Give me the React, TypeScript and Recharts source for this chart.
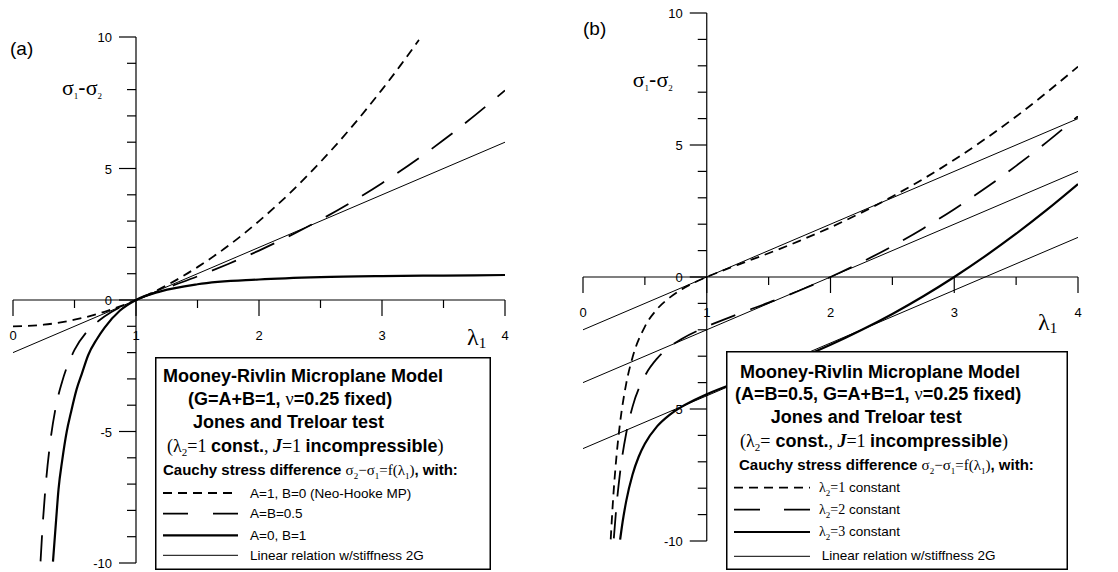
import React from "react";
import { LineChart, Line, XAxis, YAxis, ReferenceLine, Legend } from "recharts";

const SANS = "'Liberation Sans', Arial, Helvetica, sans-serif";
const SERIF = "'Liberation Serif', 'Times New Roman', serif";

const SHORT_DASH = "9 6";
const LONG_DASH = "26 16";

// axis ticks
const xTicks = [0, 0.5, 1, 1.5, 2, 2.5, 3, 3.5, 4];
const yTicks = [-10, -9, -8, -7, -6, -5, -4, -3, -2, -1, 0, 1, 2, 3, 4, 5, 6, 7, 8, 9, 10];

// (a) A=1, B=0 (Neo-Hooke MP)
const neoX = [0, 0.25, 0.5, 0.75, 1, 1.25, 1.5, 1.75, 2, 2.25, 2.5, 2.75, 3, 3.15, 3.3];
const neoY = [-1, -0.94, -0.75, -0.44, 0, 0.56, 1.25, 2.06, 3, 4.06, 5.25, 6.56, 8, 8.92, 9.89];
// (a) A=B=0.5
const halfX = [0.224, 0.24, 0.27, 0.3, 0.35, 0.4, 0.5, 0.6, 0.7, 0.8, 0.9, 1, 1.25, 1.5, 1.75, 2, 2.5, 3, 3.5, 4];
const halfY = [-9.94, -8.65, -6.82, -5.51, -4.02, -3.1, -1.9, -1.21, -0.78, -0.46, -0.21, 0, 0.46, 0.9, 1.37, 1.88, 3.05, 4.44, 6.08, 7.97];
// (a) A=0, B=1
const bOneX = [0.325, 0.35, 0.37, 0.4, 0.437, 0.47, 0.517, 0.56, 0.611, 0.68, 0.745, 0.87, 1, 1.2, 1.5, 2, 2.5, 3, 3.5, 4];
const bOneY = [-9.95, -8.4, -7.2, -6.1, -5.0, -4.3, -3.4, -2.8, -2.1, -1.5, -1.05, -0.4, 0, 0.33, 0.6, 0.78, 0.87, 0.91, 0.93, 0.95];
// (a) linear relation, stiffness 2G
const linAX = [0, 4];
const linAY = [-2, 6];

// (b) lambda2 = 1
const lam1X = [0.224, 0.24, 0.27, 0.3, 0.35, 0.4, 0.5, 0.6, 0.7, 0.8, 0.9, 1, 1.25, 1.5, 1.75, 2, 2.5, 3, 3.5, 4];
const lam1Y = [-9.94, -8.65, -6.82, -5.51, -4.02, -3.05, -1.88, -1.21, -0.78, -0.46, -0.21, 0, 0.46, 0.9, 1.37, 1.88, 3.05, 4.44, 6.08, 7.97];
// (b) lambda2 = 2
const lam2X = [0.249, 0.27, 0.3, 0.35, 0.4, 0.5, 0.6, 0.7, 0.8, 1, 1.25, 1.5, 1.75, 2, 2.25, 2.5, 2.75, 3, 3.25, 3.5, 3.75, 4];
const lam2Y = [-9.9, -8.7, -7.39, -5.9, -4.92, -3.75, -3.08, -2.65, -2.34, -1.88, -1.41, -0.97, -0.51, 0, 0.56, 1.17, 1.84, 2.57, 3.36, 4.21, 5.12, 6.09];
// (b) lambda2 = 3
const lam3X = [0.3, 0.32, 0.35, 0.4, 0.45, 0.5, 0.6, 0.7, 0.8, 0.9, 1, 1.25, 1.5, 1.75, 2, 2.25, 2.5, 2.75, 3, 3.25, 3.5, 3.75, 4];
const lam3Y = [-9.95, -9.28, -8.47, -7.49, -6.81, -6.32, -5.65, -5.22, -4.91, -4.66, -4.44, -3.98, -3.54, -3.08, -2.57, -2.01, -1.4, -0.73, 0, 0.79, 1.64, 2.55, 3.52];
// (b) linear relations
const linB1X = [0, 4];
const linB1Y = [-2, 6];
const linB2X = [0, 4];
const linB2Y = [-4, 4];
const linB3X = [0, 4];
const linB3Y = [-6.5, 1.5];

const pts = (xs: number[], ys: number[]) => xs.map((x, i) => ({ x, y: ys[i] }));

interface Series {
  name: string;
  data: { x: number; y: number }[];
  dash?: string;
  width: number;
  curve: "monotone" | "linear";
}

const seriesA: Series[] = [
  { name: "neo", data: pts(neoX, neoY), dash: SHORT_DASH, width: 1.8, curve: "monotone" },
  { name: "half", data: pts(halfX, halfY), dash: LONG_DASH, width: 1.8, curve: "monotone" },
  { name: "bOne", data: pts(bOneX, bOneY), width: 2.2, curve: "monotone" },
  { name: "linA", data: pts(linAX, linAY), width: 1, curve: "linear" },
];

const seriesB: Series[] = [
  { name: "lam1", data: pts(lam1X, lam1Y), dash: SHORT_DASH, width: 1.8, curve: "monotone" },
  { name: "lam2", data: pts(lam2X, lam2Y), dash: LONG_DASH, width: 1.8, curve: "monotone" },
  { name: "lam3", data: pts(lam3X, lam3Y), width: 2.2, curve: "monotone" },
  { name: "linB1", data: pts(linB1X, linB1Y), width: 1, curve: "linear" },
  { name: "linB2", data: pts(linB2X, linB2Y), width: 1, curve: "linear" },
  { name: "linB3", data: pts(linB3X, linB3Y), width: 1, curve: "linear" },
];

const makeXTick = (axisY: number) => (props: any) => {
  const { x, payload } = props;
  const v = payload.value;
  const major = Number.isInteger(v);
  return (
    <g>
      <line x1={x} x2={x} y1={axisY} y2={axisY + (major ? 16 : 8)} stroke="#000" strokeWidth={1.2} />
      {major && (
        <text x={x} y={axisY + 40} textAnchor="middle" fontFamily={SANS} fontSize={13} fill="#000">
          {v}
        </text>
      )}
    </g>
  );
};

const makeYTick = (axisX: number) => (props: any) => {
  const { y, payload } = props;
  const v = payload.value;
  const major = v % 5 === 0;
  return (
    <g>
      <line x1={axisX - (major ? 17 : 9)} x2={axisX} y1={y} y2={y} stroke="#000" strokeWidth={1.2} />
      {major && (
        <text x={axisX - 24} y={y + 5} textAnchor="end" fontFamily={SANS} fontSize={13} fill="#000">
          {v}
        </text>
      )}
    </g>
  );
};

// axis titles: Recharts passes its own x/y, so positions use tx/ty
const SigmaTitle = ({ tx, ty, panel, px, py }: any) => (
  <g>
    <text x={px} y={py} fontFamily={SANS} fontSize={19} fill="#000">{panel}</text>
    <text x={tx} y={ty} fontSize={22} fill="#000" fontFamily={SERIF}>
      σ<tspan fontSize={9} dy={4}>1</tspan>
      <tspan fontFamily={SANS} dy={-4}>-</tspan>σ<tspan fontSize={9} dy={4}>2</tspan>
    </text>
  </g>
);

const LambdaTitle = ({ tx, ty }: any) => (
  <text x={tx} y={ty} fontFamily={SERIF} fontSize={24} fill="#000">
    λ<tspan fontSize={15} dy={3}>1</tspan>
  </text>
);

const Sample = ({ y, x1, x2, s, dash }: any) => (
  <line x1={x1} x2={x2} y1={y} y2={y} stroke="#000" strokeWidth={s.width} strokeDasharray={dash ?? s.dash} />
);

// "Cauchy stress difference σ2−σ1=f(λ1), with:"
const CauchyLine = ({ x, y }: any) => (
  <text x={x} y={y} fontSize={15} fontFamily={SANS} fontWeight="bold">
    Cauchy stress difference{" "}
    <tspan fontFamily={SERIF} fontWeight="normal">σ</tspan>
    <tspan fontFamily={SERIF} fontWeight="normal" fontSize={9} dy={4}>2</tspan>
    <tspan fontFamily={SERIF} fontWeight="normal" dy={-4}>−σ</tspan>
    <tspan fontFamily={SERIF} fontWeight="normal" fontSize={9} dy={4}>1</tspan>
    <tspan fontFamily={SERIF} fontWeight="normal" dy={-4}>=f(λ</tspan>
    <tspan fontFamily={SERIF} fontWeight="normal" fontSize={9} dy={4}>1</tspan>
    <tspan fontFamily={SERIF} fontWeight="normal" dy={-4}>)</tspan>
    <tspan>, with:</tspan>
  </text>
);

const LegendA = () => (
  <svg width={336} height={213} style={{ display: "block" }}>
    <rect x={0.75} y={0.75} width={334.5} height={211.5} fill="#fff" stroke="#000" strokeWidth={1.5} />
    <g fill="#000">
      <text x={8} y={25} fontFamily={SANS} fontWeight="bold" fontSize={18}>Mooney-Rivlin Microplane Model</text>
      <text x={33} y={48.3} fontFamily={SANS} fontWeight="bold" fontSize={18}>
        (G=A+B=1, <tspan fontFamily={SERIF} fontWeight="normal">ν</tspan>=0.25 fixed)
      </text>
      <text x={38} y={71.3} fontFamily={SANS} fontWeight="bold" fontSize={18}>Jones and Treloar test</text>
      <text x={12} y={95} fontSize={18} fontFamily={SERIF}>
        (λ<tspan fontSize={11} dy={4}>2</tspan>
        <tspan dy={-4}>=1 </tspan>
        <tspan fontFamily={SANS} fontWeight="bold">const.</tspan>,{" "}
        <tspan fontStyle="italic" fontWeight="bold">J</tspan>=1{" "}
        <tspan fontFamily={SANS} fontWeight="bold">incompressible</tspan>)
      </text>
      <CauchyLine x={8} y={118.3} />
      <Sample y={136} x1={8} x2={83} s={seriesA[0]} />
      <Sample y={156.6} x1={8} x2={83} s={seriesA[1]} dash="25 25" />
      <Sample y={178.3} x1={8} x2={83} s={seriesA[2]} />
      <Sample y={198.3} x1={8} x2={83} s={seriesA[3]} />
      <text x={95} y={140.8} fontFamily={SANS} fontSize={13.5}>A=1, B=0 (Neo-Hooke MP)</text>
      <text x={95} y={161.3} fontFamily={SANS} fontSize={13.5}>A=B=0.5</text>
      <text x={95} y={182.6} fontFamily={SANS} fontSize={13.5}>A=0, B=1</text>
      <text x={95} y={202.6} fontFamily={SANS} fontSize={13.5}>Linear relation w/stiffness 2G</text>
    </g>
  </svg>
);

const LamItem = ({ x, y, n }: any) => (
  <text x={x} y={y} fontSize={14} fontFamily={SERIF}>
    λ<tspan fontSize={9} dy={4}>2</tspan>
    <tspan dy={-4}>={n}</tspan>
    <tspan fontFamily={SANS} fontSize={13.5}> constant</tspan>
  </text>
);

const LegendB = () => (
  <svg width={342} height={219} style={{ display: "block" }}>
    <rect x={0.75} y={0.75} width={340.5} height={217.5} fill="#fff" stroke="#000" strokeWidth={1.5} />
    <g fill="#000">
      <text x={14} y={26.6} fontFamily={SANS} fontWeight="bold" fontSize={18}>Mooney-Rivlin Microplane Model</text>
      <text x={9} y={49.3} fontFamily={SANS} fontWeight="bold" fontSize={18}>
        (A=B=0.5, G=A+B=1, <tspan fontFamily={SERIF} fontWeight="normal">ν</tspan>=0.25 fixed)
      </text>
      <text x={44.7} y={72} fontFamily={SANS} fontWeight="bold" fontSize={18}>Jones and Treloar test</text>
      <text x={14} y={96} fontSize={18} fontFamily={SERIF}>
        (λ<tspan fontSize={11} dy={4}>2</tspan>
        <tspan dy={-4}>=</tspan>
        <tspan fontFamily={SANS} fontWeight="bold"> const.</tspan>,{" "}
        <tspan fontStyle="italic" fontWeight="bold">J</tspan>=1{" "}
        <tspan fontFamily={SANS} fontWeight="bold">incompressible</tspan>)
      </text>
      <CauchyLine x={13} y={119.3} />
      <Sample y={136.6} x1={8} x2={84} s={seriesB[0]} />
      <Sample y={158.6} x1={8} x2={84} s={seriesB[1]} dash="26 24" />
      <Sample y={181} x1={8} x2={84} s={seriesB[2]} />
      <Sample y={205.3} x1={8} x2={84} s={seriesB[3]} />
      <LamItem x={93} y={141} n={1} />
      <LamItem x={93} y={162.6} n={2} />
      <LamItem x={93} y={185.3} n={3} />
      <text x={95.7} y={209} fontFamily={SANS} fontSize={13.5}>Linear relation w/stiffness 2G</text>
    </g>
  </svg>
);

interface PanelProps {
  left: number;
  width: number;
  margin: { top: number; right: number; bottom: number; left: number };
  axisX: number;
  axisY: number;
  series: Series[];
  legend: React.ReactNode;
  legendPos: { left: number; top: number; width: number; height: number };
  sigma: { tx: number; ty: number; px: number; py: number; panel: string };
  lambda: { tx: number; ty: number };
}

function Panel(p: PanelProps) {
  return (
    <div style={{ position: "absolute", left: p.left, top: 0 }}>
      <LineChart width={p.width} height={572} margin={p.margin}>
        <XAxis
          dataKey="x"
          type="number"
          domain={[0, 4]}
          ticks={xTicks}
          interval={0}
          allowDataOverflow
          height={1}
          axisLine={false}
          tickLine={false}
          tick={makeXTick(p.axisY)}
          label={<LambdaTitle {...p.lambda} />}
        />
        <YAxis
          type="number"
          domain={[-10, 10]}
          ticks={yTicks}
          interval={0}
          allowDataOverflow
          width={1}
          axisLine={false}
          tickLine={false}
          tick={makeYTick(p.axisX)}
          label={<SigmaTitle {...p.sigma} />}
        />
        <ReferenceLine y={0} stroke="#000" strokeWidth={1.2} />
        <ReferenceLine x={1} stroke="#000" strokeWidth={1.2} />
        {p.series.map((s) => (
          <Line
            key={s.name}
            data={s.data}
            dataKey="y"
            type={s.curve}
            stroke="#000"
            strokeWidth={s.width}
            strokeDasharray={s.dash}
            dot={false}
            activeDot={false}
            isAnimationActive={false}
          />
        ))}
        <Legend
          layout="horizontal"
          verticalAlign="middle"
          align="center"
          content={() => p.legend}
          wrapperStyle={{ ...p.legendPos }}
        />
      </LineChart>
    </div>
  );
}

export default function App() {
  return (
    <div style={{ position: "absolute", left: 0, top: 0, width: 1118, height: 572, background: "#fff" }}>
      <Panel
        left={0}
        width={560}
        margin={{ top: 37, right: 55, bottom: 8, left: 12 }}
        axisX={136}
        axisY={300}
        series={seriesA}
        legend={<LegendA />}
        legendPos={{ left: 155, top: 357, width: 336, height: 213 }}
        sigma={{ tx: 62, ty: 95, px: 10, py: 55, panel: "(a)" }}
        lambda={{ tx: 467, ty: 345 }}
      />
      <Panel
        left={560}
        width={558}
        margin={{ top: 13, right: 40, bottom: 30, left: 22 }}
        axisX={146.75}
        axisY={277}
        series={seriesB}
        legend={<LegendB />}
        legendPos={{ left: 166, top: 351, width: 342, height: 219 }}
        sigma={{ tx: 72.7, ty: 86.7, px: 23, py: 35, panel: "(b)" }}
        lambda={{ tx: 478, ty: 330 }}
      />
    </div>
  );
}
